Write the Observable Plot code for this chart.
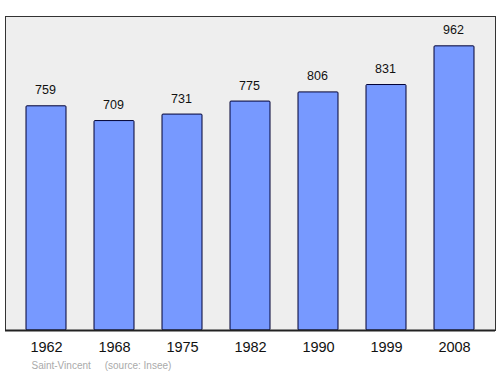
<!DOCTYPE html>
<html><head><meta charset="utf-8">
<script src="https://cdn.jsdelivr.net/npm/d3@7"></script>
<script src="https://cdn.jsdelivr.net/npm/@observablehq/plot@0.6"></script>
<style>body{margin:0;background:#fff;font-family:"Liberation Sans",Arial,sans-serif}</style>
</head><body><div id="chart"></div>
<script>
const years = ["1962","1968","1975","1982","1990","1999","2008"];
const population = [759,709,731,775,806,831,962];
const caption = "Saint-Vincent\u00a0\u00a0\u00a0\u00a0\u00a0(source: Insee)";
const data = years.map((y,i)=>({year:y, pop:population[i]}));
const chart = Plot.plot({
  width:500, height:374,
  marginTop:16, marginBottom:44, marginLeft:5, marginRight:5,
  style:{fontFamily:"Liberation Sans, Arial, sans-serif", background:"#fff"},
  x:{type:"band", domain:years, paddingInner:0.414, paddingOuter:0.265, label:null},
  y:{domain:[0,1063], axis:null},
  marks:[
    Plot.frame({fill:"#eeeeee", stroke:"#333", strokeWidth:1}),
    Plot.barY(data,{x:"year", y:"pop", fill:"#7799ff", stroke:"#000033", strokeWidth:1, rx:1}),
    Plot.text(data,{x:"year", y:"pop", text:d=>String(d.pop), dy:-16, dx:-1, fontSize:12.5, fill:"#111"}),
    Plot.ruleY([0],{stroke:"#222", strokeWidth:2}),
    Plot.axisX({tickSize:0, tickPadding:11, fontSize:14.5, fill:"#111", label:null}),
    Plot.text([caption],{frameAnchor:"bottom-left", dx:26, dy:38, fontSize:10, fill:"#aaaaaa", textAnchor:"start"})
  ]
});
document.getElementById("chart").append(chart);
</script></body></html>
